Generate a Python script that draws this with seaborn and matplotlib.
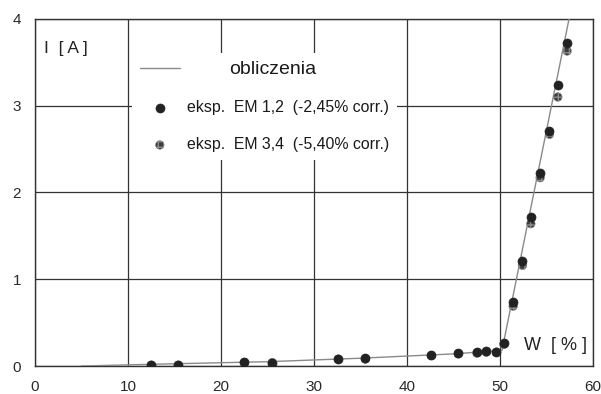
import numpy as np
import pandas as pd
import matplotlib
matplotlib.use('Agg')
import matplotlib.pyplot as plt
import seaborn as sns

# Calculated characteristic (obliczenia)
calc_w = [5.0, 12.5, 25.0, 35.0, 45.0, 50.2, 57.5]
calc_i = [0.0, 0.02, 0.05, 0.09, 0.14, 0.18, 4.05]

# Experiment EM 1,2
em12_w = [12.5, 15.4, 22.5, 25.5, 32.6, 35.5, 42.6, 45.5, 47.5, 48.5, 49.6,
          50.4, 51.4, 52.4, 53.3, 54.3, 55.3, 56.2, 57.2]
em12_i = [0.01, 0.01, 0.05, 0.04, 0.08, 0.09, 0.13, 0.15, 0.16, 0.17, 0.16,
          0.26, 0.74, 1.21, 1.72, 2.22, 2.71, 3.24, 3.72]

# Experiment EM 3,4
em34_w = [12.5, 15.4, 22.5, 25.5, 32.6, 35.5, 42.6, 45.5, 47.5, 48.5, 49.6,
          50.4, 51.4, 52.4, 53.3, 54.3, 55.3, 56.2, 57.2]
em34_i = [0.01, 0.01, 0.04, 0.04, 0.08, 0.08, 0.12, 0.14, 0.15, 0.16, 0.16,
          0.25, 0.69, 1.16, 1.64, 2.17, 2.67, 3.10, 3.63]

labels = ['obliczenia', 'eksp.  EM 1,2  (-2,45% corr.)', 'eksp.  EM 3,4  (-5,40% corr.)']

sns.set_style('white')
plt.rcParams['font.family'] = ['Liberation Sans', 'DejaVu Sans']

fig = plt.figure(figsize=(6.01, 3.94), dpi=100)
ax = fig.add_axes([0.058, 0.071, 0.929, 0.881])

sns.lineplot(x=calc_w, y=calc_i, ax=ax, color='#8a8a8a', lw=1.0, label=labels[0], zorder=3)
sns.scatterplot(x=em34_w, y=em34_i, ax=ax, s=38, color='#3c3c3c', edgecolor='#8c8c8c',
                linewidth=0.4, hatch='+++', label=labels[2], zorder=4)
sns.scatterplot(x=em12_w, y=em12_i, ax=ax, s=42, color='#222222', edgecolor='#222222',
                linewidth=0.5, label=labels[1], zorder=5)

ax.set_xlim(0, 60)
ax.set_ylim(0, 4)
ax.set_xticks(range(0, 61, 10))
ax.set_yticks(range(0, 5))
ax.set_xticks(np.arange(5, 60, 10), minor=True)
ax.set_yticks(np.arange(0.5, 4, 1), minor=True)
ax.grid(True, which='major', color='#333333', lw=0.9)
ax.tick_params(which='major', length=4, color='#333333', labelsize=11, labelcolor='#2a2a2a', pad=6)
ax.tick_params(which='minor', length=3, color='#666666')
for s in ax.spines.values():
    s.set_color('#333333')
    s.set_linewidth(1.0)
ax.set_xlabel('')
ax.set_ylabel('')

ax.text(1.0, 3.66, 'I  [ A ]', fontsize=12.5, color='#222222', va='center', ha='left')
ax.text(52.6, 0.24, 'W  [ % ]', fontsize=13, color='#222222', va='center', ha='left',
        bbox=dict(facecolor='white', edgecolor='none', pad=1))

handles, labs = ax.get_legend_handles_labels()
order = [labs.index(l) for l in labels]
leg = ax.legend([handles[i] for i in order], [labs[i] for i in order],
                loc='upper left', bbox_to_anchor=(0.16, 0.925), frameon=True,
                facecolor='white', edgecolor='none', framealpha=1, fontsize=11.4,
                handlelength=2.5, handletextpad=0.45, labelspacing=1.4, borderpad=0.5)
leg.set_zorder(6)
texts = leg.get_texts()
texts[0].set_fontsize(14)
texts[0].set_x(42)
for t in texts:
    t.set_color('#1a1a1a')

fig.savefig('out.png', dpi=100)
